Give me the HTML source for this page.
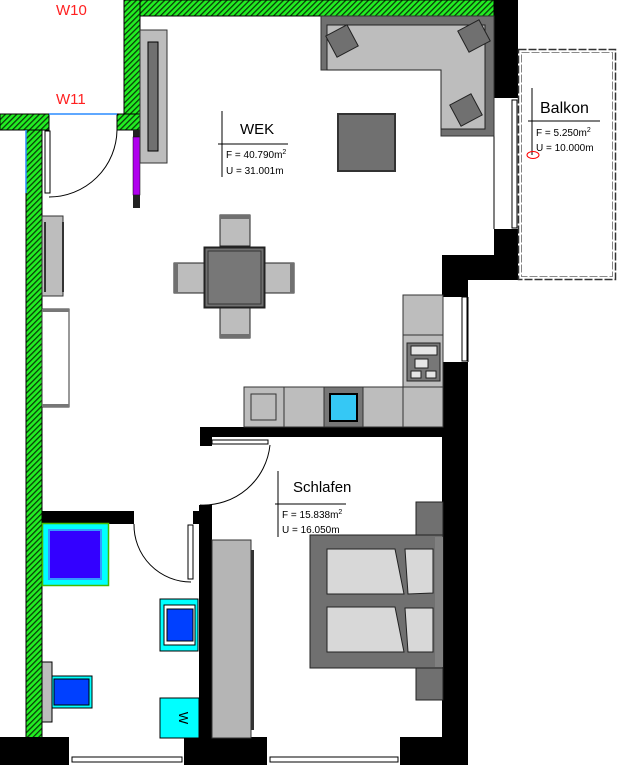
<!DOCTYPE html>
<html><head><meta charset="utf-8"><style>
html,body{margin:0;padding:0;background:#fff;}
svg{display:block;}
text{font-family:"Liberation Sans",sans-serif;}
</style></head><body>
<svg width="618" height="765" viewBox="0 0 618 765" xmlns="http://www.w3.org/2000/svg">
<defs>
<pattern id="h" width="4" height="4" patternUnits="userSpaceOnUse" patternTransform="rotate(45)">
<rect width="4" height="4" fill="#22ee22"/><rect width="1.3" height="4" fill="#0a3a0a"/>
</pattern>
</defs>
<g stroke="#000" stroke-width="1" fill="url(#h)">
<rect x="124" y="0" width="370" height="16"/>
<rect x="124" y="0" width="16" height="130"/>
<rect x="117" y="114" width="23" height="16"/>
<rect x="0" y="114" width="49" height="16"/>
<rect x="26" y="130" width="16" height="608"/>
</g>
<line x1="49" y1="114" x2="117" y2="114" stroke="#2a8cff" stroke-width="1.5"/>
<line x1="26" y1="130" x2="26" y2="193" stroke="#2a8cff" stroke-width="1.5"/>
<g fill="#000">
<rect x="494" y="0" width="24" height="98"/>
<rect x="494" y="229" width="24" height="26"/>
<rect x="442" y="255" width="76" height="25"/>
<rect x="442" y="280" width="26" height="17"/>
<rect x="442" y="362" width="26" height="403"/>
<rect x="200" y="427" width="268" height="10"/>
<rect x="200" y="427" width="12" height="19"/>
<rect x="199" y="505" width="13" height="260"/>
<rect x="42" y="511" width="92" height="13"/>
<rect x="193" y="511" width="6" height="13"/>
<rect x="0" y="737" width="69" height="28"/>
<rect x="184" y="737" width="83" height="28"/>
<rect x="400" y="737" width="68" height="28"/>
</g>
<g fill="#fff" stroke="#000" stroke-width="1">
<rect x="512" y="100" width="5" height="128"/>
<rect x="462" y="297" width="5" height="64"/>
<rect x="72" y="757" width="110" height="5"/>
<rect x="270" y="757" width="128" height="5"/>
</g>
<line x1="494" y1="98" x2="494" y2="229" stroke="#000"/>
<line x1="468" y1="297" x2="468" y2="362" stroke="#000"/>
<rect x="518.5" y="49.5" width="97" height="230" fill="#fff" stroke="#333" stroke-width="1.5" stroke-dasharray="8,2"/>
<rect x="521.5" y="52.5" width="91" height="224" fill="none" stroke="#666" stroke-width="0.8" stroke-dasharray="8,2"/>
<g fill="none" stroke="#000" stroke-width="1">
<rect x="45" y="131" width="5" height="62"/>
<path d="M49 197 A68 68 0 0 0 117 130"/>
<rect x="212" y="440" width="56" height="4"/>
<path d="M270 445 A67 67 0 0 1 200 505"/>
<rect x="188" y="525" width="5" height="54"/>
<path d="M134 524 A57 57 0 0 0 191 582"/>
</g>
<rect x="133" y="130" width="7" height="8" fill="#222"/>
<rect x="133" y="137" width="7" height="58" fill="#b000ee" stroke="#000" stroke-width="0.5"/>
<rect x="133" y="195" width="7" height="13" fill="#222"/>
<rect x="140" y="30" width="27" height="133" fill="#bdbdbd" stroke="#333"/>
<rect x="148" y="42" width="10" height="109" fill="#707070" stroke="#000"/>
<path d="M321 16H494V136H441V70H321Z" fill="#707070" stroke="#333"/>
<path d="M327 25H485V129H441V70H327Z" fill="#bdbdbd" stroke="#222"/>
<g fill="#707070" stroke="#222">
<rect x="330" y="29" width="24" height="24" transform="rotate(-28 342 41)"/>
<rect x="462" y="24" width="24" height="24" transform="rotate(-28 474 36)"/>
<rect x="454" y="98" width="24" height="24" transform="rotate(-28 466 110)"/>
</g>
<rect x="338" y="114" width="57" height="57" fill="#707070" stroke="#333" stroke-width="2"/>
<g fill="#bdbdbd" stroke="#222">
<rect x="220" y="215" width="30" height="31"/>
<rect x="220" y="307" width="30" height="31"/>
<rect x="174" y="263" width="30" height="30"/>
<rect x="264" y="263" width="30" height="30"/>
</g>
<g fill="#707070"><rect x="220" y="215" width="30" height="4"/><rect x="220" y="334" width="30" height="4"/><rect x="174" y="263" width="4" height="30"/><rect x="290" y="263" width="4" height="30"/></g>
<rect x="204.5" y="247.5" width="60" height="60" fill="#707070" stroke="#222" stroke-width="2"/>
<rect x="208" y="251" width="53" height="53" fill="#777" stroke="#333"/>
<rect x="42" y="216" width="21" height="80" fill="#bdbdbd" stroke="#333"/>
<rect x="44" y="222" width="2" height="70" fill="#333"/>
<rect x="62" y="222" width="2" height="70" fill="#333"/>
<rect x="42" y="309" width="27" height="98" fill="#fff" stroke="#333"/>
<rect x="42" y="309" width="27" height="3" fill="#777"/>
<rect x="42" y="404" width="27" height="3" fill="#777"/>
<g fill="#bdbdbd" stroke="#333">
<rect x="244" y="387" width="40" height="40"/>
<rect x="284" y="387" width="40" height="40"/>
<rect x="324" y="387" width="39" height="40" fill="#777"/>
<rect x="363" y="387" width="40" height="40"/>
<rect x="403" y="387" width="40" height="40"/>
<rect x="403" y="295" width="40" height="40"/>
<rect x="403" y="335" width="40" height="52"/>
<rect x="251" y="394" width="25" height="26"/>
</g>
<rect x="330" y="394" width="27" height="27" fill="#35c8f5" stroke="#000" stroke-width="2"/>
<rect x="407" y="343" width="33" height="38" fill="#777" stroke="#222"/>
<g fill="#e5e5e5" stroke="#222"><rect x="411" y="346" width="26" height="9"/><rect x="415" y="359" width="13" height="9"/><rect x="411" y="371" width="10" height="7"/><rect x="426" y="371" width="10" height="7"/></g>
<rect x="42.5" y="523.5" width="66" height="62" fill="#00ffff" stroke="#44bb00" stroke-width="1.5"/>
<rect x="49" y="530" width="52" height="49" fill="#3300ff" stroke="#3399ff" stroke-width="2"/>
<rect x="160" y="599" width="38" height="52" fill="#00ffff" stroke="#000"/>
<rect x="164" y="605" width="31" height="40" fill="#fff" stroke="#000"/>
<rect x="167" y="609" width="26" height="32" fill="#0040ff" stroke="#000"/>
<rect x="42" y="662" width="10" height="60" fill="#bdbdbd" stroke="#000"/>
<rect x="52" y="676" width="40" height="32" fill="#00ffff" stroke="#000"/>
<rect x="54" y="679" width="35" height="26" fill="#0040ff" stroke="#000"/>
<rect x="160" y="698" width="39" height="40" fill="#00ffff" stroke="#000"/>
<text x="179" y="718" font-size="13" text-anchor="middle" transform="rotate(90 179 718)">W</text>
<rect x="212" y="540" width="39" height="198" fill="#b5b5b5" stroke="#333"/>
<rect x="251" y="550" width="3" height="180" fill="#333"/>
<rect x="416" y="502" width="27" height="198" fill="#707070" stroke="#222"/>
<rect x="310" y="535" width="133" height="133" fill="#707070" stroke="#222"/>
<rect x="435" y="537" width="8" height="130" fill="#808080"/>
<g fill="#d8d8d8" stroke="#222">
<path d="M327 549L395 549L404 594L327 594Z"/>
<path d="M405 549L433 549L433 593L408 594Z"/>
<path d="M327 607L395 607L404 652L327 652Z"/>
<path d="M405 608L433 608L433 652L408 652Z"/>
</g>
<g stroke="#000" stroke-width="1">
<line x1="222" y1="111" x2="222" y2="177"/><line x1="218" y1="144" x2="288" y2="144"/>
<line x1="532" y1="88" x2="532" y2="155"/><line x1="528" y1="121" x2="600" y2="121"/>
<line x1="278" y1="471" x2="278" y2="537"/><line x1="275" y1="504" x2="346" y2="504"/>
</g>
<text x="240" y="134" font-size="15">WEK</text>
<text x="226" y="158" font-size="10">F = 40.790m<tspan font-size="7" dy="-4">2</tspan></text>
<text x="226" y="174" font-size="10">U = 31.001m</text>
<text x="540" y="113" font-size="16">Balkon</text>
<text x="536" y="136" font-size="10">F = 5.250m<tspan font-size="7" dy="-4">2</tspan></text>
<text x="536" y="151" font-size="10">U = 10.000m</text>
<ellipse cx="533" cy="155" rx="6" ry="3.5" fill="none" stroke="#ff0000"/>
<text x="293" y="492" font-size="15">Schlafen</text>
<text x="282" y="518" font-size="10">F = 15.838m<tspan font-size="7" dy="-4">2</tspan></text>
<text x="282" y="533" font-size="10">U = 16.050m</text>
<text x="56" y="15" font-size="15" fill="#ff2020">W10</text>
<text x="56" y="104" font-size="15" fill="#ff2020">W11</text>
</svg>
</body></html>
